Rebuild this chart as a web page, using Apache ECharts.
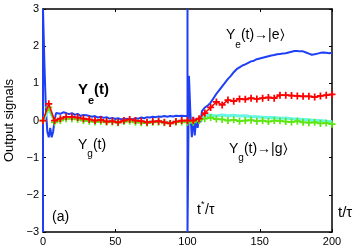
<!DOCTYPE html>
<html>
<head>
<meta charset="utf-8">
<script src="https://cdn.jsdelivr.net/npm/echarts@6/dist/echarts.min.js"></script>
<style>
html,body{margin:0;padding:0;background:#fff;}
#chart{width:360px;height:249px;}
</style>
</head>
<body>
<div id="chart"></div>
<script>
// ---- data ----
const xTicks = [0, 50, 100, 150, 200];
const yTicks = [-3, -2, -1, 0, 1, 2, 3];

// Ye(t): blue curve [t, value]
const yeBlue = [
  [0,-3],[0,3],[1,1.5],[2,0.3],[3,-0.3],[4,-0.45],[5,-0.2],[6,-0.45],[7,-0.3],[8,0.0],[9,0.2],[10,0.25],
  [12,0.18],[14,0.22],[16,0.2],[18,0.17],[20,0.2],[22,0.15],[24,0.18],[26,0.12],[28,0.15],[30,0.14],
  [32,0.12],[34,0.1],[36,0.12],[38,0.08],[40,0.1],[42,0.07],[44,0.09],[46,0.05],[48,0.07],[50,0.04],
  [52,0.06],[54,0.03],[56,0.05],[58,0.04],[60,0.05],[62,0.03],[64,0.06],[66,0.05],[68,0.08],[70,0.06],
  [72,0.09],[74,0.08],[76,0.1],[78,0.09],[80,0.11],[82,0.1],[84,0.12],[86,0.1],[88,0.12],[90,0.11],
  [92,0.13],[94,0.12],[96,0.13],[98,0.12],[100,0.12],[100,3],[100,-3],[101,1.2],[102,0.2],[103,-0.45],
  [104,0.1],[105,-0.4],[106,0.05],[107,-0.2],[108,0.1],[109,-0.05],[110,0.25],[111,0.2],[112,0.35],
  [113,0.3],[114,0.4],[116,0.48],[118,0.6],[120,0.72],[122,0.82],[124,0.92],[126,1.02],[128,1.12],
  [130,1.2],[132,1.3],[134,1.38],[136,1.43],[138,1.48],[140,1.51],[142,1.55],[144,1.59],[146,1.61],
  [148,1.65],[150,1.67],[152,1.69],[154,1.71],[156,1.73],[158,1.75],[160,1.76],[162,1.78],[164,1.79],
  [166,1.8],[168,1.81],[170,1.83],[172,1.85],[174,1.87],[176,1.87],[178,1.86],[180,1.86],[182,1.83],
  [184,1.8],[186,1.77],[188,1.78],[190,1.8],[192,1.82],[194,1.83],[196,1.82],[198,1.81],[200,1.82]
];

// red and green (+ markers) sampled every 4
const tMarks = [0,4,8,12,16,20,24,28,32,36,40,44,48,52,56,60,64,68,72,76,80,84,88,92,96,100,
  104,108,112,116,120,124,128,132,136,140,144,148,152,156,160,164,168,172,176,180,184,188,192,196,200];
const redVals = [0,0.45,0.0,0.05,0.1,0.1,0.08,0.05,0.03,0.0,0.02,-0.03,-0.02,-0.05,0.0,0.03,0.0,-0.02,
  -0.05,-0.03,-0.02,-0.05,-0.08,-0.03,0.0,0.0,0.0,0.05,0.2,0.35,0.5,0.42,0.55,0.52,0.58,0.57,0.6,0.58,
  0.6,0.62,0.6,0.68,0.68,0.67,0.66,0.65,0.65,0.63,0.66,0.68,0.7];
const greenVals = [0,0.35,-0.05,0.0,0.05,0.05,0.03,0.0,-0.02,-0.04,-0.03,-0.05,-0.04,-0.06,-0.03,-0.02,
  -0.05,-0.06,-0.07,-0.05,-0.04,-0.06,-0.08,-0.05,-0.04,-0.05,-0.05,0.0,0.05,0.08,0.04,0.03,0.0,0.02,
  -0.02,0.0,0.01,-0.02,0.0,-0.03,0.0,-0.01,-0.03,-0.04,-0.02,-0.05,-0.06,-0.05,-0.08,-0.07,-0.1];
const cyanVals = [0,0.3,0.0,0.05,0.08,0.06,0.05,0.02,0.0,-0.02,-0.01,-0.03,-0.02,-0.04,-0.02,0.0,
  -0.03,-0.04,-0.05,-0.03,-0.02,-0.04,-0.06,-0.03,-0.02,-0.03,-0.05,0.05,0.12,0.15,0.12,0.15,0.13,0.14,
  0.12,0.13,0.1,0.1,0.09,0.08,0.08,0.06,0.07,0.05,0.04,0.03,0.02,0.0,0.0,-0.02,-0.03];

const pair = (xs, ys) => xs.map((x, i) => [x, ys[i]]);
const plusSym = 'path://M3,0H5V3H8V5H5V8H3V5H0V3H3Z';
const FONT = '"Liberation Sans", Arial, sans-serif';
const minus = v => String(v).replace('-', '\u2212');

// rich text styles for main + subscript
function subRich(size, subSize, bold, subLH) {
  const w = bold ? 'bold' : 'normal';
  return {
    a: {fontSize: size, fontWeight: w, fontFamily: FONT, fill: '#000', lineHeight: 18, verticalAlign: 'top'},
    b: {fontSize: subSize, fontWeight: w, fontFamily: FONT, fill: '#000', lineHeight: subLH, verticalAlign: 'bottom'}
  };
}
const plain = (size) => ({fill: '#000', font: size + 'px ' + FONT});

const chart = echarts.init(document.getElementById('chart'), null, {renderer: 'canvas'});
const axisCommon = {
  type: 'value', min: 0, max: 200, interval: 50,
  axisLine: {show: true, onZero: false, lineStyle: {color: '#000', width: 1.5}},
  axisTick: {show: true, inside: true, length: 3, lineStyle: {color: '#000'}},
  splitLine: {show: false}
};
const yCommon = {
  type: 'value', min: -3, max: 3, interval: 1,
  axisLine: {show: true, onZero: false, lineStyle: {color: '#000', width: 1.5}},
  axisTick: {show: true, inside: true, length: 3, lineStyle: {color: '#000'}},
  splitLine: {show: false}
};
chart.setOption({
  animation: false,
  backgroundColor: '#fff',
  grid: {left: 43, right: 28, top: 9, bottom: 17, containLabel: false, outerBoundsMode: 'none'},
  xAxis: [
    Object.assign({}, axisCommon, {position: 'bottom',
      axisLabel: {color: '#000', fontSize: 11, fontFamily: FONT, margin: 4,
        formatter: v => xTicks.includes(v) ? String(v) : ''}}),
    Object.assign({}, axisCommon, {position: 'top', axisLabel: {show: false}})
  ],
  yAxis: [
    Object.assign({}, yCommon, {position: 'left',
      name: 'Output signals', nameLocation: 'middle', nameRotate: 90, nameGap: 27,
      nameTextStyle: {color: '#000', fontSize: 13, fontFamily: FONT},
      axisLabel: {color: '#000', fontSize: 11, fontFamily: FONT, margin: 4,
        formatter: v => yTicks.includes(v) ? minus(v) : ''}}),
    Object.assign({}, yCommon, {position: 'right', axisLabel: {show: false}})
  ],
  series: [
    {type: 'line', data: yeBlue, showSymbol: false, symbol: 'none',
      lineStyle: {color: '#1f3ff5', width: 2}, z: 2},
    {type: 'line', data: pair(tMarks, cyanVals), symbol: 'none',
      lineStyle: {color: '#66f5e6', width: 3}, z: 3},
    {type: 'line', data: pair(tMarks, greenVals), symbol: plusSym, symbolSize: 7,
      itemStyle: {color: '#5ee612'}, lineStyle: {color: '#5ee612', width: 1.5}, z: 4},
    {type: 'line', data: pair(tMarks, redVals), symbol: plusSym, symbolSize: 7,
      itemStyle: {color: '#ff0000'}, lineStyle: {color: '#ff0000', width: 1.5}, z: 5}
  ],
  graphic: [
    {type: 'text', left: 78, top: 82, z: 100, style: {
      text: '{a|Y}{b|e}{a|(t)}', rich: subRich(15, 11, true, 24)}},
    {type: 'text', left: 78, top: 138, z: 100, style: {
      text: '{a|Y}{b|g}{a|(t)}', rich: subRich(14, 10, false, 21)}},
    {type: 'text', left: 226, top: 28, z: 100, style: {
      text: '{a|Y}{b|e}{a|(t)\u2192|e\u232A}', rich: subRich(14, 10, false, 22)}},
    {type: 'text', left: 229, top: 142, z: 100, style: {
      text: '{a|Y}{b|g}{a|(t)\u2192|g\u232A}', rich: subRich(14, 10, false, 21)}},
    {type: 'text', left: 52, top: 210, z: 100, style: Object.assign({text: '(a)'}, plain(14))},
    {type: 'text', left: 197, top: 203, z: 100, style: Object.assign({text: 't'}, plain(14))},
    {type: 'text', left: 201, top: 200, z: 100, style: Object.assign({text: '*'}, plain(9))},
    {type: 'text', left: 205, top: 203, z: 100, style: Object.assign({text: '/\u03C4'}, plain(14))},
    {type: 'text', left: 338, top: 205, z: 100, style: Object.assign({text: 't/\u03C4'}, plain(15))}
  ]
});
</script>
</body>
</html>
